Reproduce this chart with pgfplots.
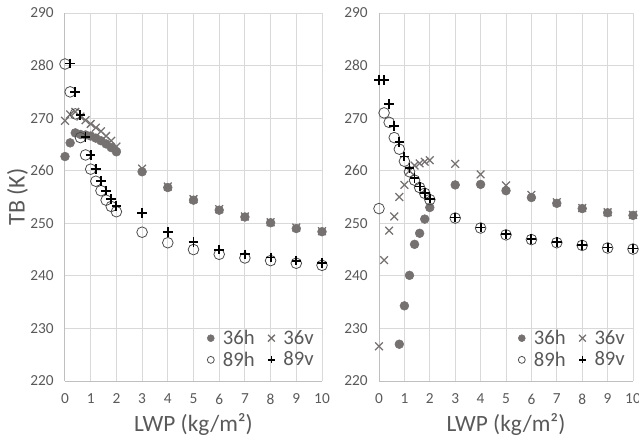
\documentclass[border=0pt]{standalone}
\usepackage{fontspec}
\setmainfont{Carlito}
\usepackage{pgfplots}
\pgfplotsset{compat=1.18}
\definecolor{mkgray}{HTML}{767171}
\definecolor{txtgray}{HTML}{595959}
\definecolor{gridc}{HTML}{D9D9D9}
\definecolor{axgray}{HTML}{BFBFBF}
\pgfplotsset{
 panel/.style={
  scale only axis, height=276pt,
  xmin=0,xmax=10,ymin=220,ymax=290,
  xtick={0,...,10}, ytick={220,230,...,290},
  grid=major, major grid style={draw=gridc, line width=0.75pt},
  axis x line*=bottom, axis y line*=left,
  axis line style={draw=axgray, line width=0.75pt, -},
  tick style={draw=none},
  tick label style={font=\fontsize{11.5}{13}\selectfont, text=txtgray},
  /pgf/number format/assume math mode=true,
  xticklabel style={yshift=-6pt},
  yticklabel style={xshift=-5pt},
  xlabel={LWP (kg/m²)},
  xlabel style={at={(axis description cs:0.5,-0.118)},anchor=center,font=\fontsize{17.5}{20}\selectfont,text=txtgray},
  legend columns=2,
  legend style={draw=none, fill=none, at={(0.995,0.02)}, anchor=south east, font=\fontsize{15.5}{18}\selectfont, text=txtgray, /tikz/every even column/.append style={column sep=7pt}},
  legend image code/.code={\path (0,0) (0.36cm,0); \draw[#1] plot coordinates {(0.12cm,0cm)};},
  every legend image post/.style={mark size=2.6pt},
  clip=false,
 },
 h36/.style={only marks, mark=*, mark size=3.3pt, mark options={draw=mkgray, fill=mkgray}},
 v36/.style={only marks, mark=x, mark size=4.1pt, mark options={draw=mkgray, line width=0.95pt}, legend image post style={mark size=3.6pt}},
 h89/.style={only marks, mark=o, mark size=4pt, mark options={draw=black!70, line width=0.6pt}},
 v89/.style={only marks, mark=+, mark size=3.6pt, mark options={draw=black, line width=1.4pt}},
}
\begin{document}
\begin{tikzpicture}
\path[use as bounding box] (-48.75pt,-43.5pt) rectangle (430.5pt,285.75pt);
\begin{axis}[panel, width=192.75pt, at={(0pt,0pt)}, anchor=south west,
  ylabel={TB (K)},
  ylabel style={at={(axis description cs:-0.185,0.5)}, anchor=center, font=\fontsize{18}{20}\selectfont, text=txtgray}]
\addplot[h36] coordinates {(0,262.7)(0.2,265.3)(0.4,267.2)(0.6,266.9)(0.8,266.8)(1.0,266.6)(1.2,266.2)(1.4,265.7)(1.6,265.1)(1.8,264.4)(2.0,263.6)(3,259.8)(4,256.8)(5,254.4)(6,252.5)(7,251.2)(8,250.1)(9,249.0)(10,248.4)};
\addlegendentry{36h}
\addplot[v36] coordinates {(0,269.5)(0.2,270.7)(0.4,271.2)(0.6,270.3)(0.8,269.6)(1.0,268.9)(1.2,268.2)(1.4,267.5)(1.6,266.6)(1.8,265.7)(2.0,264.6)(3,260.4)(4,257.0)(5,254.6)(6,252.7)(7,251.3)(8,250.2)(9,249.2)(10,248.5)};
\addlegendentry{36v}
\addplot[h89] coordinates {(0,280.3)(0.2,275.0)(0.4,270.8)(0.6,266.3)(0.8,263.0)(1.0,260.3)(1.2,258.0)(1.4,256.2)(1.6,254.4)(1.8,253.2)(2.0,252.2)(3,248.3)(4,246.3)(5,245.0)(6,244.1)(7,243.4)(8,242.9)(9,242.4)(10,242.0)};
\addlegendentry{89h}
\addplot[v89] coordinates {(0.2,280.4)(0.4,275.0)(0.6,270.6)(0.8,266.4)(1.0,263.0)(1.2,260.3)(1.4,258.0)(1.6,256.2)(1.8,254.6)(2.0,253.3)(3,252.0)(4,248.4)(5,246.4)(6,245.0)(7,244.1)(8,243.5)(9,242.9)(10,242.4)};
\addlegendentry{89v}
\end{axis}
\begin{axis}[panel, width=190.5pt, at={(235.5pt,0pt)}, anchor=south west]
\addplot[h36] coordinates {(0.8,227.0)(1.0,234.3)(1.2,240.1)(1.4,246.0)(1.6,248.1)(1.8,250.8)(2.0,253.0)(3,257.3)(4,257.4)(5,256.2)(6,254.9)(7,253.8)(8,252.8)(9,252.0)(10,251.5)};
\addlegendentry{36h}
\addplot[v36] coordinates {(0,226.6)(0.2,243.0)(0.4,248.6)(0.6,251.3)(0.8,255.0)(1.0,257.3)(1.2,260.0)(1.4,261.0)(1.6,261.4)(1.8,261.7)(2.0,262.0)(3,261.3)(4,259.3)(5,257.2)(6,255.4)(7,254.0)(8,252.9)(9,252.1)(10,251.6)};
\addlegendentry{36v}
\addplot[h89] coordinates {(0,252.8)(0.2,271.0)(0.4,269.2)(0.6,266.3)(0.8,264.1)(1.0,261.8)(1.2,259.8)(1.4,258.2)(1.6,256.8)(1.8,255.7)(2.0,254.5)(3,251.0)(4,249.1)(5,247.8)(6,246.9)(7,246.3)(8,245.8)(9,245.3)(10,245.1)};
\addlegendentry{89h}
\addplot[v89] coordinates {(0,277.3)(0.2,277.2)(0.4,272.7)(0.6,268.5)(0.8,265.5)(1.0,262.7)(1.2,260.5)(1.4,258.6)(1.6,257.0)(1.8,255.8)(2.0,254.7)(3,251.1)(4,249.2)(5,247.9)(6,247.0)(7,246.4)(8,245.9)(9,245.4)(10,245.2)};
\addlegendentry{89v}
\end{axis}
\end{tikzpicture}
\end{document}
